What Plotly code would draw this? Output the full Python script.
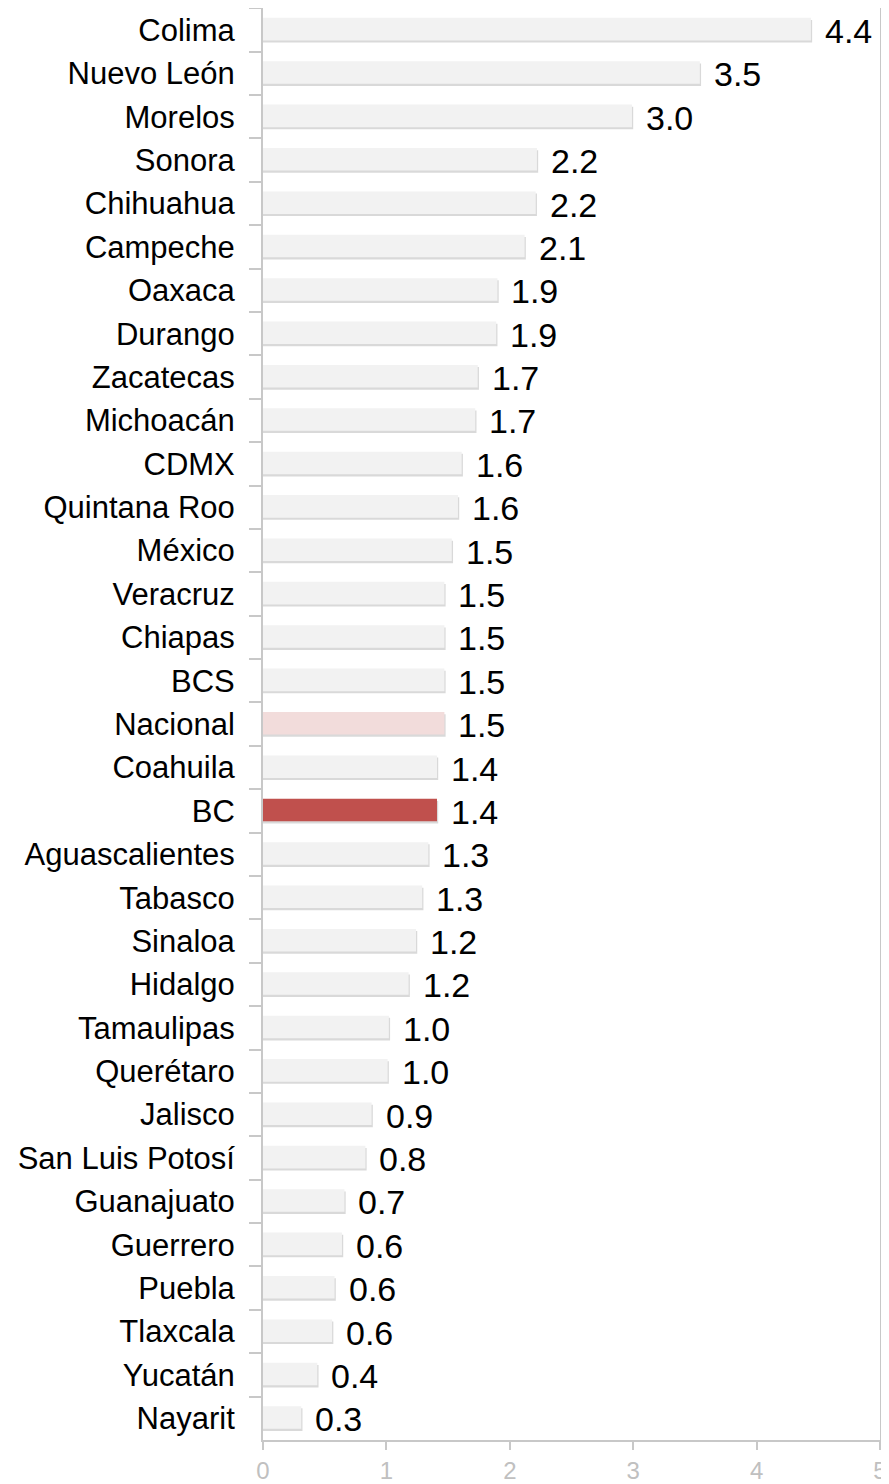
import plotly.graph_objects as go

# data
estados = ["Colima", "Nuevo León", "Morelos", "Sonora", "Chihuahua", "Campeche",
           "Oaxaca", "Durango", "Zacatecas", "Michoacán", "CDMX", "Quintana Roo",
           "México", "Veracruz", "Chiapas", "BCS", "Nacional", "Coahuila", "BC",
           "Aguascalientes", "Tabasco", "Sinaloa", "Hidalgo", "Tamaulipas",
           "Querétaro", "Jalisco", "San Luis Potosí", "Guanajuato", "Guerrero",
           "Puebla", "Tlaxcala", "Yucatán", "Nayarit"]
valores = [4.44, 3.54, 2.99, 2.22, 2.21, 2.12, 1.90, 1.89, 1.74, 1.72, 1.61, 1.58,
           1.53, 1.47, 1.47, 1.47, 1.47, 1.41, 1.41, 1.34, 1.29, 1.24, 1.18, 1.02,
           1.01, 0.88, 0.83, 0.66, 0.64, 0.58, 0.56, 0.44, 0.31]
etiquetas = ["4.4", "3.5", "3.0", "2.2", "2.2", "2.1", "1.9", "1.9", "1.7", "1.7",
             "1.6", "1.6", "1.5", "1.5", "1.5", "1.5", "1.5", "1.4", "1.4", "1.3",
             "1.3", "1.2", "1.2", "1.0", "1.0", "0.9", "0.8", "0.7", "0.6", "0.6",
             "0.6", "0.4", "0.3"]

# highlight colours
colores = []
for e in estados:
    if e == "BC":
        colores.append("#c0504d")
    elif e == "Nacional":
        colores.append("#f2dcdb")
    else:
        colores.append("#f2f2f2")

fig = go.Figure()

# soft shadow under each bar
fig.add_trace(go.Bar(
    y=estados, x=[v + 0.01 for v in valores], orientation="h",
    width=0.52, offset=-0.23,
    marker=dict(color="rgba(0,0,0,0.15)", line=dict(width=0)),
    hoverinfo="skip", showlegend=False
))

# main bars
fig.add_trace(go.Bar(
    y=estados, x=valores, orientation="h",
    width=0.52, offset=-0.28,
    marker=dict(color=colores, line=dict(width=0)),
    showlegend=False
))

# value labels
for e, v, t in zip(estados, valores, etiquetas):
    fig.add_annotation(x=v, y=e, text=t, showarrow=False, xanchor="left",
                       xshift=12, yshift=-1,
                       font=dict(family="Liberation Sans, Arial", size=34, color="black"))

# page body adds an 8px offset, so the figure is sized to fit inside it
fig.update_layout(
    width=881, height=1476,
    margin=dict(l=255, r=9, t=0, b=44),
    plot_bgcolor="white", paper_bgcolor="white",
    barmode="overlay",
    font=dict(family="Liberation Sans, Arial"),
)

fig.update_xaxes(
    range=[0, 5], dtick=1, showgrid=False, zeroline=False, automargin=False,
    showline=True, linecolor="#c8c8c8", linewidth=2, mirror=True,
    ticks="outside", ticklen=8, tickcolor="#c8c8c8", tickwidth=2,
    ticklabelstandoff=0,
    tickfont=dict(size=24, color="#c0c0c0")
)
fig.update_yaxes(
    autorange="reversed", showgrid=False, automargin=False,
    showline=True, linecolor="#c8c8c8", linewidth=2, mirror=True,
    ticks="outside", tickson="boundaries", ticklen=12, tickcolor="#c8c8c8", tickwidth=2,
    ticklabelstandoff=20,
    tickfont=dict(size=31, color="black")
)

fig.write_html("out.html")
